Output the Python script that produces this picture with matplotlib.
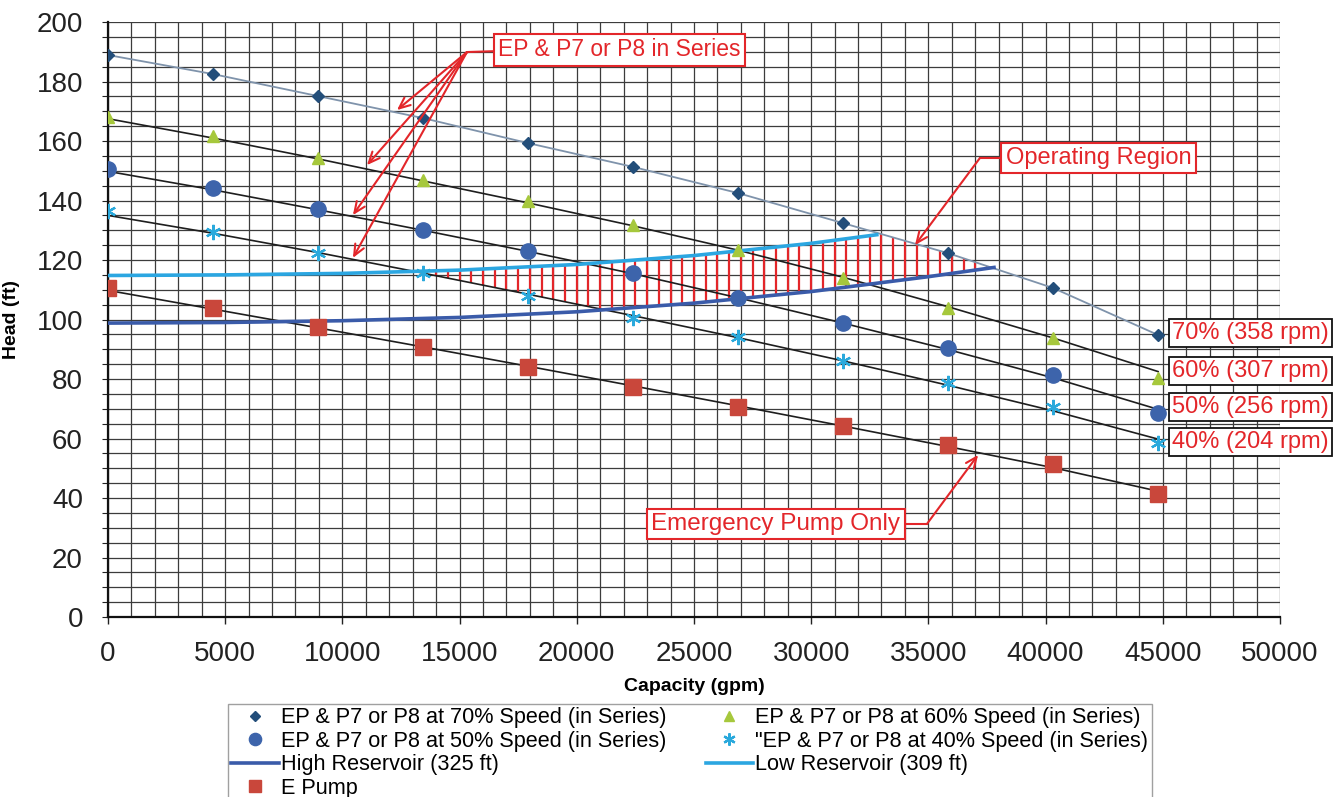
import matplotlib.pyplot as plt
import numpy as np
from matplotlib.ticker import MultipleLocator

plt.rcParams['font.family'] = ['Liberation Sans', 'DejaVu Sans']

# ---- pump curves (capacity in gpm, head in ft)
capacity = [0, 4480, 8960, 13440, 17920, 22400, 26880, 31360, 35840, 40320, 44800]
head_70 = [188.9, 182.5, 175.1, 167.7, 159.3, 151.3, 142.5, 132.4, 122.3, 110.6, 94.8]
head_60 = [168.0, 161.7, 154.3, 146.9, 139.8, 131.8, 123.4, 113.9, 103.9, 93.8, 80.3]
head_50 = [150.6, 144.2, 137.1, 130.1, 123.0, 115.6, 107.2, 98.8, 90.4, 81.3, 68.6]
head_40 = [136.5, 129.4, 122.3, 115.6, 107.9, 100.5, 94.1, 86.0, 78.6, 70.6, 58.5]
head_e = [110.6, 103.9, 97.5, 90.7, 84.0, 77.3, 70.6, 64.2, 57.8, 51.4, 41.3]

# trend lines drawn through the 60/50/40 % and E pump points
trend_60 = [167.5, 161.0, 154.0, 146.6, 139.2, 131.5, 123.3, 114.2, 104.3, 93.8, 82.5]
trend_50 = [149.8, 143.6, 136.9, 130.0, 122.9, 115.4, 107.3, 98.8, 89.9, 80.4, 69.8]
trend_40 = [135.0, 129.0, 122.5, 115.6, 108.5, 101.3, 93.9, 86.1, 77.9, 69.3, 59.8]
trend_e = [109.8, 103.5, 97.2, 90.8, 84.3, 77.7, 71.0, 64.2, 57.3, 50.2, 42.3]

# ---- system curves
high_q = [0, 5000, 10000, 15000, 20000, 25000, 30000, 35000, 37800]
high_h = [98.8, 99.0, 99.6, 100.7, 102.6, 105.5, 109.4, 114.4, 117.5]
low_q = [0, 5000, 10000, 15000, 20000, 25000, 30000, 32800]
low_h = [114.8, 115.0, 115.5, 116.6, 118.5, 121.5, 125.6, 128.5]

speed_labels = ['70% (358 rpm)', '60% (307 rpm)', '50% (256 rpm)', '40% (204 rpm)']
speed_label_y = [95.5, 82.7, 70.6, 58.8]

RED = '#e3262a'

fig = plt.figure(figsize=(13.41, 7.97), dpi=100)
ax = fig.add_axes([0.0805, 0.2258, 0.8740, 0.7466])

ax.set_xlim(0, 50000)
ax.set_ylim(0, 200)
ax.xaxis.set_major_locator(MultipleLocator(5000))
ax.xaxis.set_minor_locator(MultipleLocator(1000))
ax.yaxis.set_major_locator(MultipleLocator(20))
ax.yaxis.set_minor_locator(MultipleLocator(5))
ax.grid(True, which='both', color='#3c3c3c', lw=0.9)
ax.set_axisbelow(True)
ax.tick_params(axis='x', which='major', length=5, width=1, pad=12, labelsize=20, colors='#222222')
ax.tick_params(axis='x', which='minor', length=0)
ax.tick_params(axis='y', which='both', length=4, width=0.8, pad=14, labelsize=20, colors='#222222')
for s in ['top', 'right']:
    ax.spines[s].set_visible(False)
for s in ['left', 'bottom']:
    ax.spines[s].set_color('#111111')
    ax.spines[s].set_linewidth(1.6)

ax.set_xlabel('Capacity (gpm)', fontsize=14, fontweight='bold', labelpad=8)
ax.set_ylabel('Head (ft)', fontsize=14, fontweight='bold')
ax.yaxis.set_label_coords(-0.075, 0.5)

# operating region hatching between the reservoir curves and the pump curves
q_hatch = np.arange(13500, 38000, 500)
top = np.minimum(np.interp(q_hatch, low_q, low_h, right=np.inf),
                 np.interp(q_hatch, capacity, head_70))
bottom = np.maximum(np.interp(q_hatch, high_q, high_h),
                    np.interp(q_hatch, capacity, trend_40))
keep = top > bottom
ax.vlines(q_hatch[keep], bottom[keep], top[keep], color=RED, lw=1.6, zorder=2)

# lines
ax.plot(capacity, head_70, color='#7f93ab', lw=1.3, zorder=3)
for tr in [trend_60, trend_50, trend_40, trend_e]:
    ax.plot(capacity, tr, color='#1e1e1e', lw=1.2, zorder=3)
ax.plot(high_q, high_h, color='#3a5ba9', lw=2.6, zorder=3, label='High Reservoir (325 ft)')
ax.plot(low_q, low_h, color='#2ba6e1', lw=2.6, zorder=3, label='Low Reservoir (309 ft)')

# markers
ax.plot(capacity, head_70, ls='none', marker='D', ms=6.5, color='#234e7a', zorder=4,
        label='EP & P7 or P8 at 70% Speed (in Series)')
ax.plot(capacity, head_60, ls='none', marker='^', ms=9, color='#a6c83c', zorder=4,
        label='EP & P7 or P8 at 60% Speed (in Series)')
ax.plot(capacity, head_50, ls='none', marker='o', ms=11, color='#3d64ab', zorder=4,
        label='EP & P7 or P8 at 50% Speed (in Series)')
ax.plot(capacity, head_40, ls='none', marker=(6, 2, 0), ms=11, mew=1.6, color='#2aa9dc', zorder=4,
        label='"EP & P7 or P8 at 40% Speed (in Series)')
ax.plot(capacity, head_e, ls='none', marker='s', ms=11, color='#c9473b', zorder=4,
        label='E Pump')

# speed labels on the right
for lab, yv in zip(speed_labels, speed_label_y):
    ax.text(45400, yv, lab, fontsize=17, color=RED, va='center', ha='left', clip_on=False, zorder=6,
            bbox=dict(boxstyle='square,pad=0.12', fc='white', ec='#111111', lw=1.3))

box_red = dict(boxstyle='square,pad=0.18', fc='white', ec=RED, lw=1.5)
arrow = dict(arrowstyle='->,head_length=0.8,head_width=0.35', color=RED, lw=1.5, shrinkA=0, shrinkB=0)

# series callout with four arrows
ax.text(16650, 190.6, 'EP & P7 or P8 in Series', fontsize=16.5, color=RED, va='center', ha='left',
        bbox=box_red, zorder=6)
ax.plot([15316, 16500], [189.9, 190.2], color=RED, lw=1.5, zorder=5)
for tip in [(12330, 170.4), (11050, 151.9), (10450, 135.1), (10450, 120.7)]:
    ax.annotate('', xy=tip, xytext=(15316, 189.9), arrowprops=arrow, zorder=5)

# operating region callout
ax.text(38300, 154.3, 'Operating Region', fontsize=17, color=RED, va='center', ha='left',
        bbox=box_red, zorder=6)
ax.plot([37200, 38200], [154.3, 154.3], color=RED, lw=1.5, zorder=5)
ax.annotate('', xy=(34430, 125.0), xytext=(37200, 154.3), arrowprops=arrow, zorder=5)

# emergency pump callout
ax.text(33800, 31.3, 'Emergency Pump Only', fontsize=17.5, color=RED, va='center', ha='right',
        bbox=box_red, zorder=6)
ax.plot([33900, 34940], [31.3, 31.3], color=RED, lw=1.5, zorder=5)
ax.annotate('', xy=(37120, 54.5), xytext=(34940, 31.3), arrowprops=arrow, zorder=5)

handles, labels = ax.get_legend_handles_labels()
order = [labels.index(l) for l in ['EP & P7 or P8 at 70% Speed (in Series)',
                                   'EP & P7 or P8 at 50% Speed (in Series)',
                                   'High Reservoir (325 ft)', 'E Pump',
                                   'EP & P7 or P8 at 60% Speed (in Series)',
                                   '"EP & P7 or P8 at 40% Speed (in Series)',
                                   'Low Reservoir (309 ft)']]
leg = fig.legend([handles[i] for i in order], [labels[i] for i in order],
                 loc='upper left', bbox_to_anchor=(0.170, 0.1167), ncol=2, fontsize=15.6,
                 frameon=True, fancybox=False, edgecolor='#888888', handlelength=2.2,
                 handletextpad=0.1, columnspacing=1.8, labelspacing=0.12, borderpad=0.15,
                 borderaxespad=0, markerscale=0.8)
leg.get_frame().set_linewidth(1.0)

fig.savefig('out.png', dpi=100)
